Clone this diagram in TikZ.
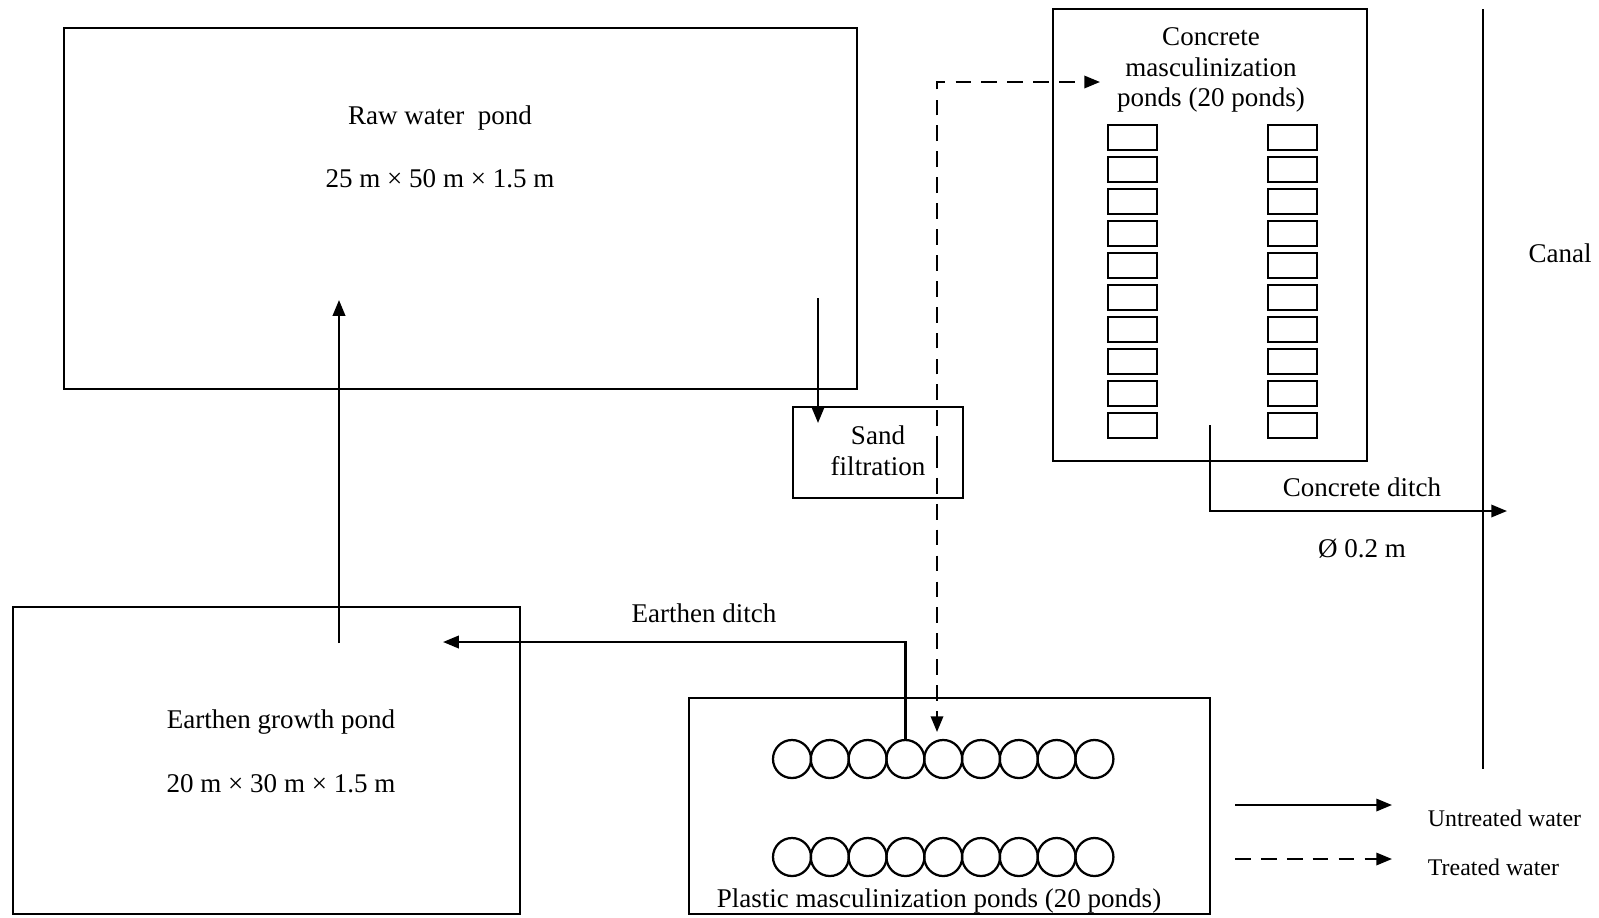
\documentclass[tikz,border=0pt]{standalone}
\usepackage{fontspec}
\setmainfont{Liberation Serif}
\usetikzlibrary{arrows.meta,fit}
\tikzset{
  pond/.style={draw, line width=1pt, inner sep=0pt},
  cell/.style={draw, line width=1pt},
  flow/.style={line width=1pt, -{Triangle[length=7pt,width=5.5pt]}},
  treated/.style={flow, dash pattern=on 7pt off 4.5pt},
  legendtext/.style={anchor=west, font=\fontsize{10.6}{12}\selectfont},
}
\begin{document}
\begin{tikzpicture}[x=0.444pt, y=-0.444pt, every node/.style={font=\fontsize{12}{13.6}\selectfont}]
  \useasboundingbox (0,0) rectangle (1599,917);
  % ponds
  \node[pond, fit={(64,28) (857,389)}] (raw) {};
  \node (rawname) at (440,118) {Raw water\ \ pond};
  \node (rawsize) at (440,179) {25 m × 50 m × 1.5 m};
  \node[pond, fit={(13,607) (520,914)}] (growth) {};
  \node (growthname) at (281,722) {Earthen growth pond};
  \node (growthsize) at (281,784) {20 m × 30 m × 1.5 m};
  \node[pond, fit={(793,407) (963,498)}] (sand) {};
  \node[align=center, inner sep=0pt] (sandname) at (878,451) {Sand\\filtration};
  \node[pond, fit={(1053,9) (1367,461)}] (concrete) {};
  \node[align=center, inner sep=0pt] (concretename) at (1211,70) {Concrete\\masculinization\\ponds (20 ponds)};
  \node[pond, fit={(689,698) (1210,914)}] (plastic) {};
  \node (plasticname) at (939,901) {Plastic masculinization ponds (20 ponds)};
  % concrete cells
  \foreach \i in {0,...,9} {
    \draw[cell] (1108,125+32*\i) rectangle ++(49,25);
    \draw[cell] (1268,125+32*\i) rectangle ++(49,25);
  }
  % plastic tanks
  \foreach \i in {0,...,8} {
    \draw[cell] (792+37.8*\i,759) circle[radius=8.44pt];
    \draw[cell] (792+37.8*\i,857) circle[radius=8.44pt];
  }
  % canal
  \coordinate (canaltop) at (1483,9);
  \coordinate (canalend) at (1483,769);
  \draw[line width=1pt] (canaltop) -- (canalend);
  \node (canal) at (1560,253) {Canal};
  % untreated water
  \coordinate (rawout) at (818,298);
  \coordinate (sandin) at (818,423);
  \draw[flow] (rawout) -- (sandin);
  \coordinate (growthout) at (339,643);
  \coordinate (rawin) at (339,300);
  \draw[flow] (growthout) -- (rawin);
  \coordinate (plasticout) at (905.4,740);
  \coordinate (growthin) at (443,642);
  \draw[flow] (plasticout) |- (growthin);
  \node (earthenditch) at (704,613) {Earthen ditch};
  \coordinate (concreteout) at (1210,425);
  \coordinate (ditchend) at (1507,511);
  \draw[flow] (concreteout) |- (ditchend);
  \node (concreteditch) at (1362,487) {Concrete ditch};
  \node (ditchsize) at (1362,549) {\O{} 0.2 m};
  % treated water
  \coordinate (sandout) at (937,452);
  \coordinate (concretein) at (1100,82);
  \coordinate (plasticin) at (937,732);
  \draw[treated] (sandout) |- (concretein);
  \draw[treated] (sandout) -- (plasticin);
  % legend
  \coordinate (legA) at (1235,805);
  \coordinate (legB) at (1392,805);
  \draw[flow] (legA) -- (legB);
  \node[legendtext] (untreated) at (1420,818) {Untreated water};
  \coordinate (legC) at (1235,859);
  \coordinate (legD) at (1392,859);
  \draw[treated] (legC) -- (legD);
  \node[legendtext] (treatedlabel) at (1420,867) {Treated water};
\end{tikzpicture}
\end{document}
